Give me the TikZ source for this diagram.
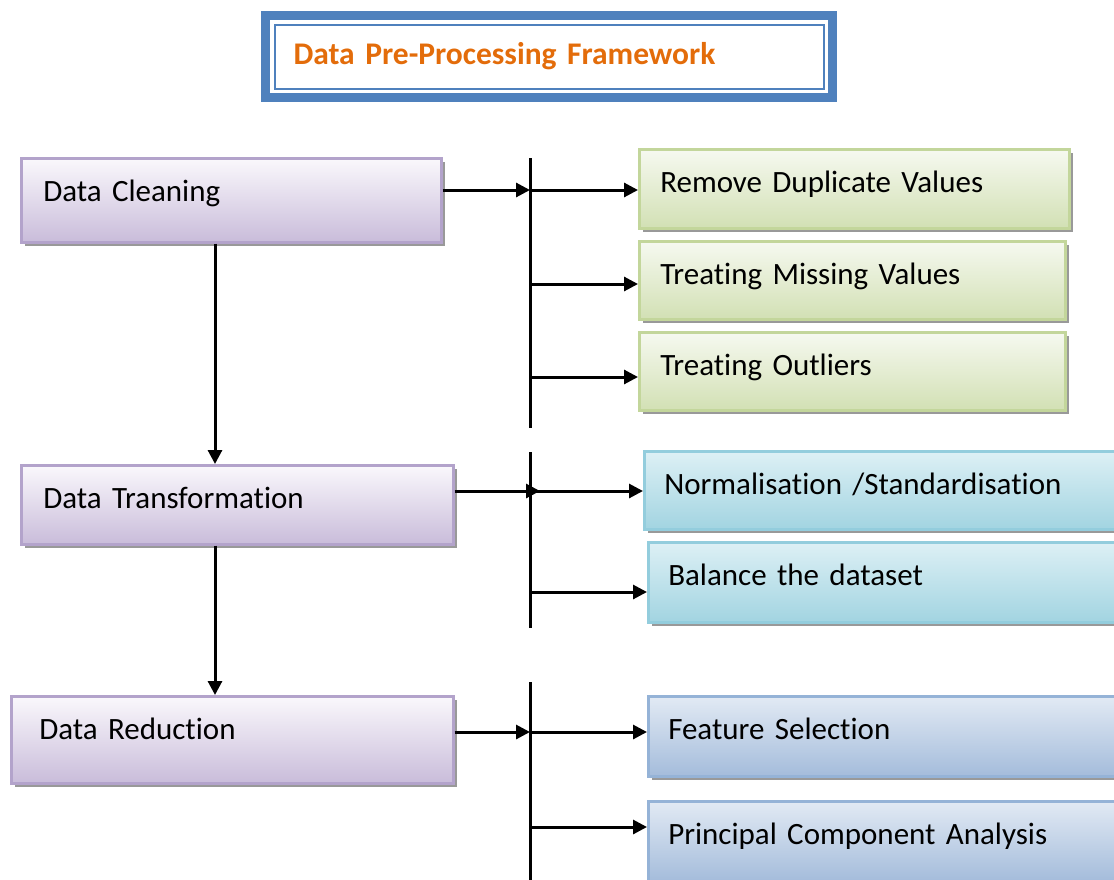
\documentclass[tikz,border=0pt]{standalone}
\usepackage{fontspec}
\setmainfont{Carlito}[Ligatures=NoCommon]
\usetikzlibrary{arrows.meta,shadows,positioning}

\definecolor{headblue}{HTML}{4F81BD}
\definecolor{headorange}{HTML}{E36C0A}
\definecolor{lilactop}{HTML}{FAF8FC}
\definecolor{lilacbot}{HTML}{C9BCDA}
\definecolor{lilacline}{HTML}{B3A3CB}
\definecolor{greentop}{HTML}{F6F9F0}
\definecolor{greenbot}{HTML}{D2E0B4}
\definecolor{greenline}{HTML}{C3D69B}
\definecolor{aquatop}{HTML}{DDF0F5}
\definecolor{aquabot}{HTML}{A2D4E1}
\definecolor{aqualine}{HTML}{93CDDD}
\definecolor{skytop}{HTML}{E2EAF4}
\definecolor{skybot}{HTML}{A4BCDB}
\definecolor{skyline}{HTML}{95B3D7}

\tikzset{
	boxbase/.style={anchor=north west, line width=2.5pt, inner ysep=0pt,
		text height=43pt, align=left, font=\fontsize{31}{36}\selectfont,
		drop shadow={shadow xshift=4pt,shadow yshift=-4pt,fill=black!50,opacity=0.8}},
	stage/.style={boxbase, draw=lilacline, top color=lilactop, bottom color=lilacbot, inner xsep=22pt},
	cleantask/.style={boxbase, draw=greenline, top color=greentop, bottom color=greenbot, inner xsep=21pt},
	formtask/.style={boxbase, draw=aqualine, top color=aquatop, bottom color=aquabot, inner xsep=20pt},
	reducetask/.style={boxbase, draw=skyline, top color=skytop, bottom color=skybot, inner xsep=20pt},
	link/.style={line width=3pt, -{Triangle[length=14pt,width=14pt]}},
	bus/.style={line width=3pt},
}

\begin{document}
\begin{tikzpicture}[x=1pt,y=-1pt]

\useasboundingbox (0,0) rectangle (1114,879);
\clip (0,0) rectangle (1114,879);

% heading with double frame
\node[anchor=north west, draw=headblue, line width=9pt, minimum width=567pt,
	inner xsep=28pt, inner ysep=0pt, text width=511pt, text height=49pt, text depth=33pt,
	align=left, font=\fontsize{31.5}{36}\selectfont\bfseries, text=headorange]
	(head) at (261,11) {Data Pre-Processing Framework};
\draw[headblue, line width=2pt] ([shift={(13.5pt,-13.5pt)}]head.north west) rectangle ([shift={(-13.5pt,13.5pt)}]head.south east);

% main stages
\node[stage, text width=376pt, text depth=41pt] (clean) at (20,157) {Data Cleaning};
\node[stage, text width=388pt, text depth=36pt] (trans) at (20,464) {Data Transformation};
\node[stage, inner xsep=28pt, text width=386pt, text depth=44pt] (reduce) at (10,695) {Data Reduction};

% tasks of each stage
\node[cleantask, text width=388pt, text depth=36pt] (dup) at (638,148) {Remove Duplicate Values};
\node[cleantask, text width=384pt, text depth=35pt] (miss) at (638,240) {Treating Missing Values};
\node[cleantask, text width=384pt, text depth=35pt] (outl) at (638,331) {Treating Outliers};

\node[formtask, text width=460pt, text depth=35pt] (norm) at (643,450) {Normalisation /Standardisation};
\node[formtask, text width=460pt, text depth=37pt] (bal) at (647,541) {Balance the dataset};

\node[reducetask, text width=460pt, text depth=37pt] (feat) at (647,695) {Feature Selection};
\node[reducetask, text width=460pt, text depth=37pt] (pca) at (647,800) {Principal Component Analysis};

% flow between stages
\coordinate (spine) at (215,0);
\draw[link] (spine |- clean.south) -- (spine |- trans.north);
\draw[link] (spine |- trans.south) -- (spine |- reduce.north);

% bus bars
\coordinate (b1top) at (530,158);
\coordinate (b1bot) at (530,428);
\coordinate (b2top) at (530,452);
\coordinate (b2bot) at (530,628);
\coordinate (b3top) at (530,682);
\coordinate (b3bot) at (530,885);
\draw[bus] (b1top) -- (b1bot);
\draw[bus] (b2top) -- (b2bot);
\draw[bus] (b3top) -- (b3bot);

% cleaning branches
\coordinate (c1) at (530,190);
\coordinate (c2) at (530,284);
\coordinate (c3) at (530,377);
\draw[link] (clean.east |- c1) -- (c1);
\draw[link] (c1) -- (dup.west |- c1);
\draw[link] (c2) -- (miss.west |- c2);
\draw[link] (c3) -- (outl.west |- c3);

% transformation branches
\coordinate (t1) at (530,491);
\coordinate (t2) at (532,592);
\coordinate (t1tip) at (540,491);
\draw[link] (trans.east |- t1) -- (t1tip);
\draw[link] (t1) -- (norm.west |- t1);
\draw[link] (t2) -- (bal.west |- t2);

% reduction branches
\coordinate (r1) at (530,732);
\coordinate (r2) at (530,827);
\draw[link] (reduce.east |- r1) -- (r1);
\draw[link] (r1) -- (feat.west |- r1);
\draw[link] (r2) -- (pca.west |- r2);

\end{tikzpicture}
\end{document}
